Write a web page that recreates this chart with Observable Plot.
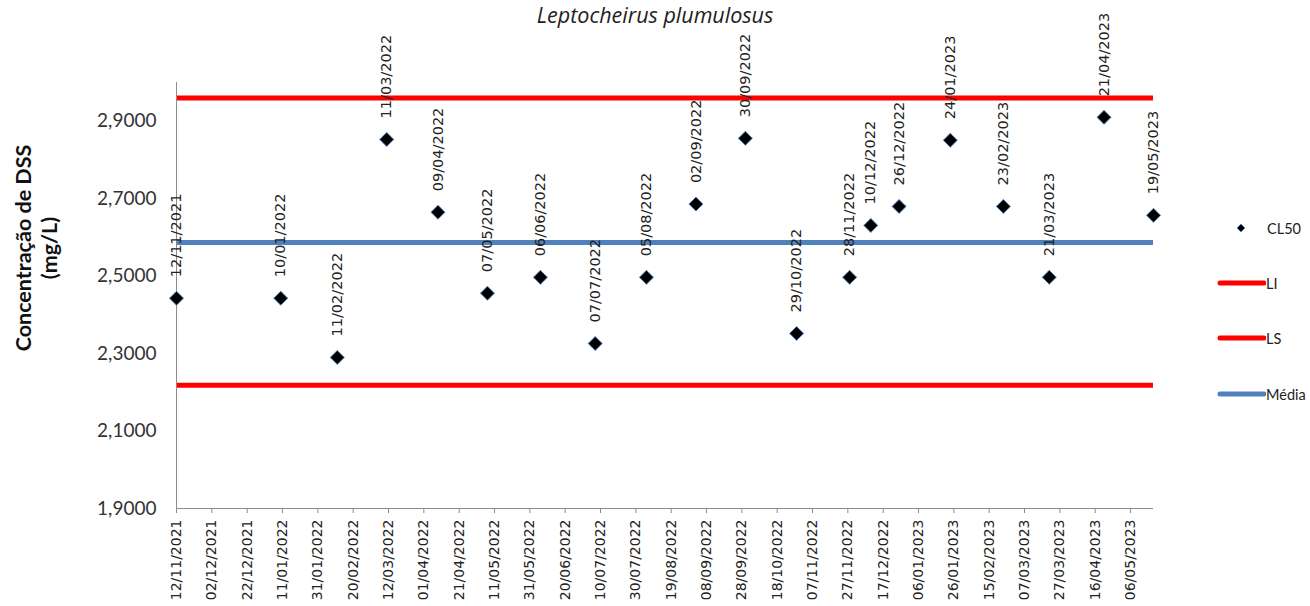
<!DOCTYPE html>
<html>
<head>
<meta charset="utf-8">
<script src="https://cdn.jsdelivr.net/npm/d3@7"></script>
<script src="https://cdn.jsdelivr.net/npm/@observablehq/plot@0.6"></script>
<style>
  html, body { margin: 0; padding: 0; background: #fff; overflow: hidden; }
  #wrap { position: relative; width: 1310px; height: 606px; overflow: hidden; }
  #title { position: absolute; left: 0; width: 1310px; top: 0; text-align: center; line-height: 22px;
           font: italic 21.5px "Open Sans", Lato, sans-serif; color: #222; }
  #ytitle { position: absolute; left: 36px; top: 248px; transform: translate(-50%, -50%) rotate(-90deg);
            font: bold 21.5px Lato, "Open Sans", sans-serif; color: #111; text-align: center; line-height: 26px; white-space: nowrap; }
  #legend { position: absolute; left: 1212px; top: 0; font: 14.5px Lato, "Open Sans", sans-serif; color: #222; }
  .lg { position: absolute; left: 0; display: flex; align-items: center; white-space: nowrap; }
  g[aria-label="y-axis tick label"] text { font: 19px Lato, "Open Sans", sans-serif; fill: #333; }
  g[aria-label="x-axis tick label"] text { font: 14px "DejaVu Sans", sans-serif; fill: #222; }
  g[aria-label="text"] text { font: 14.5px "DejaVu Sans", sans-serif; fill: #222; }
</style>
</head>
<body>
<div id="wrap">
  <div id="chart"></div>
  <div id="title">Leptocheirus plumulosus</div>
  <div id="ytitle">Concentração de DSS<br>(mg/L)</div>
  <div id="legend"></div>
</div>
<script>
// ---- data ----
const sampleDates = ["12/11/2021","10/01/2022","11/02/2022","11/03/2022","09/04/2022","07/05/2022","06/06/2022","07/07/2022","05/08/2022","02/09/2022","30/09/2022","29/10/2022","28/11/2022","10/12/2022","26/12/2022","24/01/2023","23/02/2023","21/03/2023","21/04/2023","19/05/2023"];
const cl50 = [2.443, 2.443, 2.290, 2.853, 2.665, 2.456, 2.497, 2.326, 2.497, 2.686, 2.856, 2.352, 2.497, 2.631, 2.680, 2.851, 2.680, 2.497, 2.910, 2.657];
const LI = 2.218;
const LS = 2.960;
const media = 2.587;
const xTickLabels = ["12/11/2021","02/12/2021","22/12/2021","11/01/2022","31/01/2022","20/02/2022","12/03/2022","01/04/2022","21/04/2022","11/05/2022","31/05/2022","20/06/2022","10/07/2022","30/07/2022","19/08/2022","08/09/2022","28/09/2022","18/10/2022","07/11/2022","27/11/2022","17/12/2022","06/01/2023","26/01/2023","15/02/2023","07/03/2023","27/03/2023","16/04/2023","06/05/2023"];
const yTicks = [1.9, 2.1, 2.3, 2.5, 2.7, 2.9];
const yDomain = [1.9, 3.0];
const xDomainLabels = ["12/11/2021", "19/05/2023"];

const parse = s => { const [d, m, y] = s.split("/").map(Number); return new Date(Date.UTC(y, m - 1, d)); };
const fmt = d => d3.utcFormat("%d/%m/%Y")(d);
const data = sampleDates.map((s, i) => ({ date: parse(s), label: s, v: cl50[i] }));

const RED = "#ff0000", BLUE = "#4f81bd", AXIS = "#8c8c8c";

const chart = Plot.plot({
  width: 1310,
  height: 606,
  marginLeft: 176,
  marginRight: 157,
  marginTop: 82,
  marginBottom: 98,
  x: { type: "utc", domain: xDomainLabels.map(parse) },
  y: { domain: yDomain },
  marks: [
    Plot.ruleY([LS], { stroke: RED, strokeWidth: 5 }),
    Plot.ruleY([LI], { stroke: RED, strokeWidth: 5 }),
    Plot.ruleY([media], { stroke: BLUE, strokeWidth: 5 }),
    Plot.ruleY([yDomain[0]], { stroke: AXIS, strokeWidth: 1 }),
    Plot.ruleX([parse(xDomainLabels[0])], { stroke: AXIS, strokeWidth: 1 }),
    Plot.axisY({ ticks: yTicks, tickSize: 0, tickPadding: 20, tickFormat: d => d.toFixed(4).replace(".", ","), label: null }),
    Plot.axisX({ ticks: xTickLabels.map(parse), tickFormat: fmt, tickRotate: -90, tickSize: 5, tickPadding: 6, stroke: AXIS, label: null }),
    Plot.text(data, { x: "date", y: "v", text: "label", rotate: -90, textAnchor: "start", dy: -21 }),
    Plot.dot(data, { x: "date", y: "v", symbol: "diamond2", r: 6.3, fill: "#000", stroke: BLUE, strokeWidth: 1 })
  ]
});
document.getElementById("chart").append(chart);

// ---- legend ----
const legendItems = [
  { name: "CL50", type: "dot", color: BLUE, top: 228 },
  { name: "LI", type: "line", color: RED, top: 283 },
  { name: "LS", type: "line", color: RED, top: 338 },
  { name: "Média", type: "line", color: BLUE, top: 394 }
];
const lg = document.getElementById("legend");
legendItems.forEach(it => {
  const div = document.createElement("div");
  div.className = "lg";
  div.style.top = (it.top - 10) + "px";
  const sw = it.type === "dot"
    ? `<svg width="54" height="20"><path d="M29,6 L33,10 L29,14 L25,10 Z" fill="#000" stroke="${it.color}" stroke-width="1"/></svg>`
    : `<svg width="54" height="20"><line x1="8" x2="52" y1="10" y2="10" stroke="${it.color}" stroke-width="5" stroke-linecap="round"/></svg>`;
  div.innerHTML = sw + `<span style="margin-left:${it.type === "dot" ? 1 : 0}px">${it.name}</span>`;
  lg.append(div);
});
</script>
</body>
</html>
